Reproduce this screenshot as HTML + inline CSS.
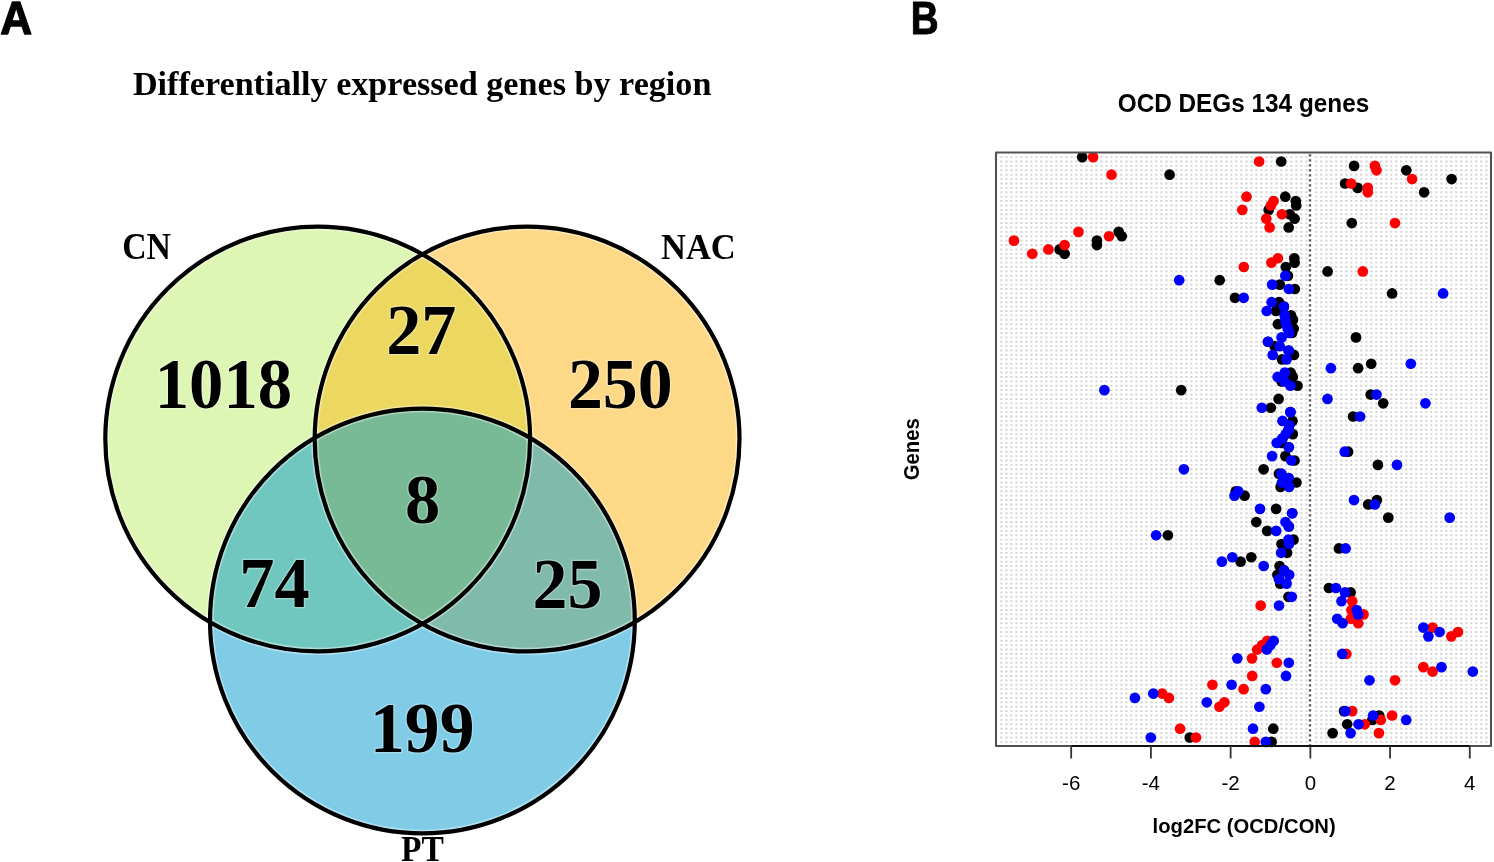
<!DOCTYPE html>
<html><head><meta charset="utf-8"><style>
html,body{margin:0;padding:0;background:#fff;}
body{width:1494px;height:862px;overflow:hidden;}
svg{display:block;will-change:transform;}
</style></head><body>
<svg width="1494" height="862" viewBox="0 0 1494 862">
<defs>
<clipPath id="cCN"><circle cx="317.7" cy="439.0" r="212.4"/></clipPath>
<clipPath id="cNAC"><circle cx="527.1" cy="439.0" r="212.4"/></clipPath>
<filter id="bl" filterUnits="userSpaceOnUse" x="900" y="100" width="600" height="700"><feGaussianBlur stdDeviation="0.45"/></filter>
</defs>
<circle cx="317.7" cy="439.0" r="212.4" fill="#DDF6B4"/>
<circle cx="527.1" cy="439.0" r="212.4" fill="#FDD987"/>
<circle cx="422.4" cy="621.0" r="212.4" fill="#80CCE7"/>
<g clip-path="url(#cCN)"><circle cx="527.1" cy="439.0" r="212.4" fill="#ECD860"/><circle cx="422.4" cy="621.0" r="212.4" fill="#70C7BF"/></g>
<g clip-path="url(#cNAC)"><circle cx="422.4" cy="621.0" r="212.4" fill="#80BAAB"/><g clip-path="url(#cCN)"><circle cx="422.4" cy="621.0" r="212.4" fill="#78B996"/></g></g>
<circle cx="317.7" cy="439.0" r="212.4" fill="none" stroke="#fff" stroke-opacity="0.4" stroke-width="7.4"/>
<circle cx="527.1" cy="439.0" r="212.4" fill="none" stroke="#fff" stroke-opacity="0.4" stroke-width="7.4"/>
<circle cx="422.4" cy="621.0" r="212.4" fill="none" stroke="#fff" stroke-opacity="0.4" stroke-width="7.4"/>
<circle cx="317.7" cy="439.0" r="212.4" fill="none" stroke="#000" stroke-width="4.2"/>
<circle cx="527.1" cy="439.0" r="212.4" fill="none" stroke="#000" stroke-width="4.2"/>
<circle cx="422.4" cy="621.0" r="212.4" fill="none" stroke="#000" stroke-width="4.2"/>
<text transform="matrix(0.9581 0 0 1.0168 0.321 33.992)" font-family="Liberation Sans" font-weight="bold" font-size="46" stroke="#000" stroke-width="1.3" stroke-linejoin="round">A</text>
<text transform="matrix(1.0049 0 0 0.9778 132.898 94.867)" font-family="Liberation Serif" font-weight="bold" font-size="34">Differentially expressed genes by region</text>
<text transform="matrix(0.9658 0 0 1.0596 122.210 259.235)" font-family="Liberation Serif" font-weight="bold" font-size="35">CN</text>
<text transform="matrix(0.9876 0 0 1.0426 660.959 259.239)" font-family="Liberation Serif" font-weight="bold" font-size="35">NAC</text>
<text transform="matrix(0.9577 0 0 1.0174 401.021 860.700)" font-family="Liberation Serif" font-weight="bold" font-size="35">PT</text>
<text transform="matrix(0.9815 0 0 1.0138 154.702 408.240)" font-family="Liberation Serif" font-weight="bold" font-size="70" stroke="#fff" stroke-opacity="0.3" stroke-width="2.6" paint-order="stroke">1018</text>
<text transform="matrix(1.0023 0 0 1.0249 386.293 354.000)" font-family="Liberation Serif" font-weight="bold" font-size="70" stroke="#fff" stroke-opacity="0.3" stroke-width="2.6" paint-order="stroke">27</text>
<text transform="matrix(0.9975 0 0 1.0201 567.908 408.335)" font-family="Liberation Serif" font-weight="bold" font-size="70" stroke="#fff" stroke-opacity="0.3" stroke-width="2.6" paint-order="stroke">250</text>
<text transform="matrix(1.0066 0 0 1.0095 405.035 522.843)" font-family="Liberation Serif" font-weight="bold" font-size="70" stroke="#fff" stroke-opacity="0.3" stroke-width="2.6" paint-order="stroke">8</text>
<text transform="matrix(1.0054 0 0 1.0217 239.278 607.300)" font-family="Liberation Serif" font-weight="bold" font-size="70" stroke="#fff" stroke-opacity="0.3" stroke-width="2.6" paint-order="stroke">74</text>
<text transform="matrix(0.9984 0 0 1.0298 532.605 607.628)" font-family="Liberation Serif" font-weight="bold" font-size="70" stroke="#fff" stroke-opacity="0.3" stroke-width="2.6" paint-order="stroke">25</text>
<text transform="matrix(0.9948 0 0 1.0255 370.028 752.431)" font-family="Liberation Serif" font-weight="bold" font-size="70" stroke="#fff" stroke-opacity="0.3" stroke-width="2.6" paint-order="stroke">199</text>
<text transform="matrix(0.8379 0 0 1.0062 910.705 33.697)" font-family="Liberation Sans" font-weight="bold" font-size="46" stroke="#000" stroke-width="1.0" stroke-linejoin="round">B</text>
<text transform="matrix(0.9735 0 0 1.0022 1117.727 111.938)" font-family="Liberation Sans" font-weight="bold" font-size="25">OCD DEGs 134 genes</text>
<text transform="matrix(0 -0.9664 1.0467 0 918.738 480.225)" font-family="Liberation Sans" font-weight="bold" font-size="21">Genes</text>
<text transform="matrix(1.0118 0 0 1.0453 1152.582 832.857)" font-family="Liberation Sans" font-weight="bold" font-size="20">log2FC (OCD/CON)</text>
<g stroke="#d5d5d5" stroke-width="1.9" stroke-dasharray="2.2 2.8" filter="url(#bl)">
<path d="M1000.3 157.10H1308.9M1315.2 157.10H1490"/>
<path d="M1000.3 161.50H1308.9M1315.2 161.50H1490"/>
<path d="M1000.3 165.89H1308.9M1315.2 165.89H1490"/>
<path d="M1000.3 170.29H1308.9M1315.2 170.29H1490"/>
<path d="M1000.3 174.69H1308.9M1315.2 174.69H1490"/>
<path d="M1000.3 179.08H1308.9M1315.2 179.08H1490"/>
<path d="M1000.3 183.48H1308.9M1315.2 183.48H1490"/>
<path d="M1000.3 187.88H1308.9M1315.2 187.88H1490"/>
<path d="M1000.3 192.28H1308.9M1315.2 192.28H1490"/>
<path d="M1000.3 196.67H1308.9M1315.2 196.67H1490"/>
<path d="M1000.3 201.07H1308.9M1315.2 201.07H1490"/>
<path d="M1000.3 205.47H1308.9M1315.2 205.47H1490"/>
<path d="M1000.3 209.86H1308.9M1315.2 209.86H1490"/>
<path d="M1000.3 214.26H1308.9M1315.2 214.26H1490"/>
<path d="M1000.3 218.66H1308.9M1315.2 218.66H1490"/>
<path d="M1000.3 223.06H1308.9M1315.2 223.06H1490"/>
<path d="M1000.3 227.45H1308.9M1315.2 227.45H1490"/>
<path d="M1000.3 231.85H1308.9M1315.2 231.85H1490"/>
<path d="M1000.3 236.25H1308.9M1315.2 236.25H1490"/>
<path d="M1000.3 240.64H1308.9M1315.2 240.64H1490"/>
<path d="M1000.3 245.04H1308.9M1315.2 245.04H1490"/>
<path d="M1000.3 249.44H1308.9M1315.2 249.44H1490"/>
<path d="M1000.3 253.83H1308.9M1315.2 253.83H1490"/>
<path d="M1000.3 258.23H1308.9M1315.2 258.23H1490"/>
<path d="M1000.3 262.63H1308.9M1315.2 262.63H1490"/>
<path d="M1000.3 267.02H1308.9M1315.2 267.02H1490"/>
<path d="M1000.3 271.42H1308.9M1315.2 271.42H1490"/>
<path d="M1000.3 275.82H1308.9M1315.2 275.82H1490"/>
<path d="M1000.3 280.22H1308.9M1315.2 280.22H1490"/>
<path d="M1000.3 284.61H1308.9M1315.2 284.61H1490"/>
<path d="M1000.3 289.01H1308.9M1315.2 289.01H1490"/>
<path d="M1000.3 293.41H1308.9M1315.2 293.41H1490"/>
<path d="M1000.3 297.80H1308.9M1315.2 297.80H1490"/>
<path d="M1000.3 302.20H1308.9M1315.2 302.20H1490"/>
<path d="M1000.3 306.60H1308.9M1315.2 306.60H1490"/>
<path d="M1000.3 311.00H1308.9M1315.2 311.00H1490"/>
<path d="M1000.3 315.39H1308.9M1315.2 315.39H1490"/>
<path d="M1000.3 319.79H1308.9M1315.2 319.79H1490"/>
<path d="M1000.3 324.19H1308.9M1315.2 324.19H1490"/>
<path d="M1000.3 328.58H1308.9M1315.2 328.58H1490"/>
<path d="M1000.3 332.98H1308.9M1315.2 332.98H1490"/>
<path d="M1000.3 337.38H1308.9M1315.2 337.38H1490"/>
<path d="M1000.3 341.77H1308.9M1315.2 341.77H1490"/>
<path d="M1000.3 346.17H1308.9M1315.2 346.17H1490"/>
<path d="M1000.3 350.57H1308.9M1315.2 350.57H1490"/>
<path d="M1000.3 354.97H1308.9M1315.2 354.97H1490"/>
<path d="M1000.3 359.36H1308.9M1315.2 359.36H1490"/>
<path d="M1000.3 363.76H1308.9M1315.2 363.76H1490"/>
<path d="M1000.3 368.16H1308.9M1315.2 368.16H1490"/>
<path d="M1000.3 372.55H1308.9M1315.2 372.55H1490"/>
<path d="M1000.3 376.95H1308.9M1315.2 376.95H1490"/>
<path d="M1000.3 381.35H1308.9M1315.2 381.35H1490"/>
<path d="M1000.3 385.74H1308.9M1315.2 385.74H1490"/>
<path d="M1000.3 390.14H1308.9M1315.2 390.14H1490"/>
<path d="M1000.3 394.54H1308.9M1315.2 394.54H1490"/>
<path d="M1000.3 398.94H1308.9M1315.2 398.94H1490"/>
<path d="M1000.3 403.33H1308.9M1315.2 403.33H1490"/>
<path d="M1000.3 407.73H1308.9M1315.2 407.73H1490"/>
<path d="M1000.3 412.13H1308.9M1315.2 412.13H1490"/>
<path d="M1000.3 416.52H1308.9M1315.2 416.52H1490"/>
<path d="M1000.3 420.92H1308.9M1315.2 420.92H1490"/>
<path d="M1000.3 425.32H1308.9M1315.2 425.32H1490"/>
<path d="M1000.3 429.71H1308.9M1315.2 429.71H1490"/>
<path d="M1000.3 434.11H1308.9M1315.2 434.11H1490"/>
<path d="M1000.3 438.51H1308.9M1315.2 438.51H1490"/>
<path d="M1000.3 442.90H1308.9M1315.2 442.90H1490"/>
<path d="M1000.3 447.30H1308.9M1315.2 447.30H1490"/>
<path d="M1000.3 451.70H1308.9M1315.2 451.70H1490"/>
<path d="M1000.3 456.10H1308.9M1315.2 456.10H1490"/>
<path d="M1000.3 460.49H1308.9M1315.2 460.49H1490"/>
<path d="M1000.3 464.89H1308.9M1315.2 464.89H1490"/>
<path d="M1000.3 469.29H1308.9M1315.2 469.29H1490"/>
<path d="M1000.3 473.68H1308.9M1315.2 473.68H1490"/>
<path d="M1000.3 478.08H1308.9M1315.2 478.08H1490"/>
<path d="M1000.3 482.48H1308.9M1315.2 482.48H1490"/>
<path d="M1000.3 486.88H1308.9M1315.2 486.88H1490"/>
<path d="M1000.3 491.27H1308.9M1315.2 491.27H1490"/>
<path d="M1000.3 495.67H1308.9M1315.2 495.67H1490"/>
<path d="M1000.3 500.07H1308.9M1315.2 500.07H1490"/>
<path d="M1000.3 504.46H1308.9M1315.2 504.46H1490"/>
<path d="M1000.3 508.86H1308.9M1315.2 508.86H1490"/>
<path d="M1000.3 513.26H1308.9M1315.2 513.26H1490"/>
<path d="M1000.3 517.65H1308.9M1315.2 517.65H1490"/>
<path d="M1000.3 522.05H1308.9M1315.2 522.05H1490"/>
<path d="M1000.3 526.45H1308.9M1315.2 526.45H1490"/>
<path d="M1000.3 530.85H1308.9M1315.2 530.85H1490"/>
<path d="M1000.3 535.24H1308.9M1315.2 535.24H1490"/>
<path d="M1000.3 539.64H1308.9M1315.2 539.64H1490"/>
<path d="M1000.3 544.04H1308.9M1315.2 544.04H1490"/>
<path d="M1000.3 548.43H1308.9M1315.2 548.43H1490"/>
<path d="M1000.3 552.83H1308.9M1315.2 552.83H1490"/>
<path d="M1000.3 557.23H1308.9M1315.2 557.23H1490"/>
<path d="M1000.3 561.62H1308.9M1315.2 561.62H1490"/>
<path d="M1000.3 566.02H1308.9M1315.2 566.02H1490"/>
<path d="M1000.3 570.42H1308.9M1315.2 570.42H1490"/>
<path d="M1000.3 574.82H1308.9M1315.2 574.82H1490"/>
<path d="M1000.3 579.21H1308.9M1315.2 579.21H1490"/>
<path d="M1000.3 583.61H1308.9M1315.2 583.61H1490"/>
<path d="M1000.3 588.01H1308.9M1315.2 588.01H1490"/>
<path d="M1000.3 592.40H1308.9M1315.2 592.40H1490"/>
<path d="M1000.3 596.80H1308.9M1315.2 596.80H1490"/>
<path d="M1000.3 601.20H1308.9M1315.2 601.20H1490"/>
<path d="M1000.3 605.59H1308.9M1315.2 605.59H1490"/>
<path d="M1000.3 609.99H1308.9M1315.2 609.99H1490"/>
<path d="M1000.3 614.39H1308.9M1315.2 614.39H1490"/>
<path d="M1000.3 618.78H1308.9M1315.2 618.78H1490"/>
<path d="M1000.3 623.18H1308.9M1315.2 623.18H1490"/>
<path d="M1000.3 627.58H1308.9M1315.2 627.58H1490"/>
<path d="M1000.3 631.98H1308.9M1315.2 631.98H1490"/>
<path d="M1000.3 636.37H1308.9M1315.2 636.37H1490"/>
<path d="M1000.3 640.77H1308.9M1315.2 640.77H1490"/>
<path d="M1000.3 645.17H1308.9M1315.2 645.17H1490"/>
<path d="M1000.3 649.56H1308.9M1315.2 649.56H1490"/>
<path d="M1000.3 653.96H1308.9M1315.2 653.96H1490"/>
<path d="M1000.3 658.36H1308.9M1315.2 658.36H1490"/>
<path d="M1000.3 662.75H1308.9M1315.2 662.75H1490"/>
<path d="M1000.3 667.15H1308.9M1315.2 667.15H1490"/>
<path d="M1000.3 671.55H1308.9M1315.2 671.55H1490"/>
<path d="M1000.3 675.95H1308.9M1315.2 675.95H1490"/>
<path d="M1000.3 680.34H1308.9M1315.2 680.34H1490"/>
<path d="M1000.3 684.74H1308.9M1315.2 684.74H1490"/>
<path d="M1000.3 689.14H1308.9M1315.2 689.14H1490"/>
<path d="M1000.3 693.53H1308.9M1315.2 693.53H1490"/>
<path d="M1000.3 697.93H1308.9M1315.2 697.93H1490"/>
<path d="M1000.3 702.33H1308.9M1315.2 702.33H1490"/>
<path d="M1000.3 706.73H1308.9M1315.2 706.73H1490"/>
<path d="M1000.3 711.12H1308.9M1315.2 711.12H1490"/>
<path d="M1000.3 715.52H1308.9M1315.2 715.52H1490"/>
<path d="M1000.3 719.92H1308.9M1315.2 719.92H1490"/>
<path d="M1000.3 724.31H1308.9M1315.2 724.31H1490"/>
<path d="M1000.3 728.71H1308.9M1315.2 728.71H1490"/>
<path d="M1000.3 733.11H1308.9M1315.2 733.11H1490"/>
<path d="M1000.3 737.50H1308.9M1315.2 737.50H1490"/>
<path d="M1000.3 741.90H1308.9M1315.2 741.90H1490"/>
</g>
<line x1="1310.0" y1="152.5" x2="1310.0" y2="746" stroke="#5a5a5a" stroke-width="2.4" stroke-dasharray="2.4 2.6" stroke-dashoffset="3.35" filter="url(#bl)"/>
<circle cx="1082.2" cy="157.10" r="5.35" fill="#000000"/>
<circle cx="1281.2" cy="161.50" r="5.35" fill="#000000"/>
<circle cx="1354.1" cy="165.89" r="5.35" fill="#000000"/>
<circle cx="1406.3" cy="170.29" r="5.35" fill="#000000"/>
<circle cx="1169.6" cy="174.69" r="5.35" fill="#000000"/>
<circle cx="1451.6" cy="179.08" r="5.35" fill="#000000"/>
<circle cx="1345.1" cy="183.48" r="5.35" fill="#000000"/>
<circle cx="1357.6" cy="187.88" r="5.35" fill="#000000"/>
<circle cx="1424.1" cy="192.28" r="5.35" fill="#000000"/>
<circle cx="1285.3" cy="196.67" r="5.35" fill="#000000"/>
<circle cx="1295.8" cy="201.07" r="5.35" fill="#000000"/>
<circle cx="1296.2" cy="205.47" r="5.35" fill="#000000"/>
<circle cx="1268.7" cy="209.86" r="5.35" fill="#000000"/>
<circle cx="1289.8" cy="214.26" r="5.35" fill="#000000"/>
<circle cx="1294.6" cy="218.66" r="5.35" fill="#000000"/>
<circle cx="1351.8" cy="223.06" r="5.35" fill="#000000"/>
<circle cx="1288.7" cy="227.45" r="5.35" fill="#000000"/>
<circle cx="1118.7" cy="231.85" r="5.35" fill="#000000"/>
<circle cx="1121.8" cy="236.25" r="5.35" fill="#000000"/>
<circle cx="1096.9" cy="240.64" r="5.35" fill="#000000"/>
<circle cx="1096.9" cy="245.04" r="5.35" fill="#000000"/>
<circle cx="1059.6" cy="249.44" r="5.35" fill="#000000"/>
<circle cx="1064.6" cy="253.83" r="5.35" fill="#000000"/>
<circle cx="1294.3" cy="258.23" r="5.35" fill="#000000"/>
<circle cx="1294.6" cy="262.63" r="5.35" fill="#000000"/>
<circle cx="1285.8" cy="267.02" r="5.35" fill="#000000"/>
<circle cx="1327.6" cy="271.42" r="5.35" fill="#000000"/>
<circle cx="1287.9" cy="275.82" r="5.35" fill="#000000"/>
<circle cx="1219.7" cy="280.22" r="5.35" fill="#000000"/>
<circle cx="1279.8" cy="284.61" r="5.35" fill="#000000"/>
<circle cx="1294.8" cy="289.01" r="5.35" fill="#000000"/>
<circle cx="1392.1" cy="293.41" r="5.35" fill="#000000"/>
<circle cx="1235.0" cy="297.80" r="5.35" fill="#000000"/>
<circle cx="1279.0" cy="302.20" r="5.35" fill="#000000"/>
<circle cx="1283.9" cy="306.60" r="5.35" fill="#000000"/>
<circle cx="1276.0" cy="311.00" r="5.35" fill="#000000"/>
<circle cx="1291.0" cy="315.39" r="5.35" fill="#000000"/>
<circle cx="1293.0" cy="319.79" r="5.35" fill="#000000"/>
<circle cx="1277.9" cy="324.19" r="5.35" fill="#000000"/>
<circle cx="1293.7" cy="328.58" r="5.35" fill="#000000"/>
<circle cx="1292.0" cy="332.98" r="5.35" fill="#000000"/>
<circle cx="1356.0" cy="337.38" r="5.35" fill="#000000"/>
<circle cx="1268.0" cy="341.77" r="5.35" fill="#000000"/>
<circle cx="1274.5" cy="346.17" r="5.35" fill="#000000"/>
<circle cx="1288.6" cy="350.57" r="5.35" fill="#000000"/>
<circle cx="1293.9" cy="354.97" r="5.35" fill="#000000"/>
<circle cx="1282.0" cy="359.36" r="5.35" fill="#000000"/>
<circle cx="1371.2" cy="363.76" r="5.35" fill="#000000"/>
<circle cx="1358.1" cy="368.16" r="5.35" fill="#000000"/>
<circle cx="1290.6" cy="372.55" r="5.35" fill="#000000"/>
<circle cx="1292.8" cy="376.95" r="5.35" fill="#000000"/>
<circle cx="1281.5" cy="381.35" r="5.35" fill="#000000"/>
<circle cx="1297.5" cy="385.74" r="5.35" fill="#000000"/>
<circle cx="1181.2" cy="390.14" r="5.35" fill="#000000"/>
<circle cx="1370.7" cy="394.54" r="5.35" fill="#000000"/>
<circle cx="1278.6" cy="398.94" r="5.35" fill="#000000"/>
<circle cx="1383.2" cy="403.33" r="5.35" fill="#000000"/>
<circle cx="1270.8" cy="407.73" r="5.35" fill="#000000"/>
<circle cx="1290.4" cy="412.13" r="5.35" fill="#000000"/>
<circle cx="1353.1" cy="416.52" r="5.35" fill="#000000"/>
<circle cx="1292.5" cy="420.92" r="5.35" fill="#000000"/>
<circle cx="1289.3" cy="425.32" r="5.35" fill="#000000"/>
<circle cx="1288.6" cy="429.71" r="5.35" fill="#000000"/>
<circle cx="1292.8" cy="434.11" r="5.35" fill="#000000"/>
<circle cx="1282.4" cy="438.51" r="5.35" fill="#000000"/>
<circle cx="1281.7" cy="442.90" r="5.35" fill="#000000"/>
<circle cx="1288.8" cy="447.30" r="5.35" fill="#000000"/>
<circle cx="1348.1" cy="451.70" r="5.35" fill="#000000"/>
<circle cx="1285.4" cy="456.10" r="5.35" fill="#000000"/>
<circle cx="1294.5" cy="460.49" r="5.35" fill="#000000"/>
<circle cx="1377.9" cy="464.89" r="5.35" fill="#000000"/>
<circle cx="1263.6" cy="469.29" r="5.35" fill="#000000"/>
<circle cx="1278.9" cy="473.68" r="5.35" fill="#000000"/>
<circle cx="1288.5" cy="478.08" r="5.35" fill="#000000"/>
<circle cx="1296.4" cy="482.48" r="5.35" fill="#000000"/>
<circle cx="1280.6" cy="486.88" r="5.35" fill="#000000"/>
<circle cx="1235.8" cy="491.27" r="5.35" fill="#000000"/>
<circle cx="1244.6" cy="495.67" r="5.35" fill="#000000"/>
<circle cx="1376.9" cy="500.07" r="5.35" fill="#000000"/>
<circle cx="1368.2" cy="504.46" r="5.35" fill="#000000"/>
<circle cx="1276.1" cy="508.86" r="5.35" fill="#000000"/>
<circle cx="1292.2" cy="513.26" r="5.35" fill="#000000"/>
<circle cx="1388.3" cy="517.65" r="5.35" fill="#000000"/>
<circle cx="1256.3" cy="522.05" r="5.35" fill="#000000"/>
<circle cx="1288.8" cy="526.45" r="5.35" fill="#000000"/>
<circle cx="1267.2" cy="530.85" r="5.35" fill="#000000"/>
<circle cx="1167.9" cy="535.24" r="5.35" fill="#000000"/>
<circle cx="1293.5" cy="539.64" r="5.35" fill="#000000"/>
<circle cx="1281.5" cy="544.04" r="5.35" fill="#000000"/>
<circle cx="1338.9" cy="548.43" r="5.35" fill="#000000"/>
<circle cx="1287.1" cy="552.83" r="5.35" fill="#000000"/>
<circle cx="1251.3" cy="557.23" r="5.35" fill="#000000"/>
<circle cx="1240.6" cy="561.62" r="5.35" fill="#000000"/>
<circle cx="1279.6" cy="566.02" r="5.35" fill="#000000"/>
<circle cx="1284.1" cy="570.42" r="5.35" fill="#000000"/>
<circle cx="1277.4" cy="574.82" r="5.35" fill="#000000"/>
<circle cx="1279.1" cy="579.21" r="5.35" fill="#000000"/>
<circle cx="1280.2" cy="583.61" r="5.35" fill="#000000"/>
<circle cx="1328.9" cy="588.01" r="5.35" fill="#000000"/>
<circle cx="1350.6" cy="592.40" r="5.35" fill="#000000"/>
<circle cx="1288.5" cy="596.80" r="5.35" fill="#000000"/>
<circle cx="1344.0" cy="711.12" r="5.35" fill="#000000"/>
<circle cx="1379.2" cy="715.52" r="5.35" fill="#000000"/>
<circle cx="1372.3" cy="719.92" r="5.35" fill="#000000"/>
<circle cx="1347.2" cy="724.31" r="5.35" fill="#000000"/>
<circle cx="1273.3" cy="728.71" r="5.35" fill="#000000"/>
<circle cx="1332.6" cy="733.11" r="5.35" fill="#000000"/>
<circle cx="1189.8" cy="737.50" r="5.35" fill="#000000"/>
<circle cx="1271.6" cy="741.90" r="5.35" fill="#000000"/>
<circle cx="1093.1" cy="157.10" r="5.35" fill="#FF0000"/>
<circle cx="1259.1" cy="161.50" r="5.35" fill="#FF0000"/>
<circle cx="1374.9" cy="165.89" r="5.35" fill="#FF0000"/>
<circle cx="1376.5" cy="170.29" r="5.35" fill="#FF0000"/>
<circle cx="1111.5" cy="174.69" r="5.35" fill="#FF0000"/>
<circle cx="1412.1" cy="179.08" r="5.35" fill="#FF0000"/>
<circle cx="1351.1" cy="183.48" r="5.35" fill="#FF0000"/>
<circle cx="1367.8" cy="187.88" r="5.35" fill="#FF0000"/>
<circle cx="1367.8" cy="192.28" r="5.35" fill="#FF0000"/>
<circle cx="1246.5" cy="196.67" r="5.35" fill="#FF0000"/>
<circle cx="1273.6" cy="201.07" r="5.35" fill="#FF0000"/>
<circle cx="1270.9" cy="205.47" r="5.35" fill="#FF0000"/>
<circle cx="1242.3" cy="209.86" r="5.35" fill="#FF0000"/>
<circle cx="1281.9" cy="214.26" r="5.35" fill="#FF0000"/>
<circle cx="1266.3" cy="218.66" r="5.35" fill="#FF0000"/>
<circle cx="1395.0" cy="223.06" r="5.35" fill="#FF0000"/>
<circle cx="1269.6" cy="227.45" r="5.35" fill="#FF0000"/>
<circle cx="1078.5" cy="231.85" r="5.35" fill="#FF0000"/>
<circle cx="1109.0" cy="236.25" r="5.35" fill="#FF0000"/>
<circle cx="1013.9" cy="240.64" r="5.35" fill="#FF0000"/>
<circle cx="1064.6" cy="245.04" r="5.35" fill="#FF0000"/>
<circle cx="1048.4" cy="249.44" r="5.35" fill="#FF0000"/>
<circle cx="1032.3" cy="253.83" r="5.35" fill="#FF0000"/>
<circle cx="1277.9" cy="258.23" r="5.35" fill="#FF0000"/>
<circle cx="1271.4" cy="262.63" r="5.35" fill="#FF0000"/>
<circle cx="1243.8" cy="267.02" r="5.35" fill="#FF0000"/>
<circle cx="1362.8" cy="271.42" r="5.35" fill="#FF0000"/>
<circle cx="1352.2" cy="601.20" r="5.35" fill="#FF0000"/>
<circle cx="1260.7" cy="605.59" r="5.35" fill="#FF0000"/>
<circle cx="1351.4" cy="609.99" r="5.35" fill="#FF0000"/>
<circle cx="1363.5" cy="614.39" r="5.35" fill="#FF0000"/>
<circle cx="1350.8" cy="618.78" r="5.35" fill="#FF0000"/>
<circle cx="1358.3" cy="623.18" r="5.35" fill="#FF0000"/>
<circle cx="1432.6" cy="627.58" r="5.35" fill="#FF0000"/>
<circle cx="1458.0" cy="631.98" r="5.35" fill="#FF0000"/>
<circle cx="1451.3" cy="636.37" r="5.35" fill="#FF0000"/>
<circle cx="1267.2" cy="640.77" r="5.35" fill="#FF0000"/>
<circle cx="1262.0" cy="645.17" r="5.35" fill="#FF0000"/>
<circle cx="1257.2" cy="649.56" r="5.35" fill="#FF0000"/>
<circle cx="1346.4" cy="653.96" r="5.35" fill="#FF0000"/>
<circle cx="1252.0" cy="658.36" r="5.35" fill="#FF0000"/>
<circle cx="1276.8" cy="662.75" r="5.35" fill="#FF0000"/>
<circle cx="1423.4" cy="667.15" r="5.35" fill="#FF0000"/>
<circle cx="1432.6" cy="671.55" r="5.35" fill="#FF0000"/>
<circle cx="1252.2" cy="675.95" r="5.35" fill="#FF0000"/>
<circle cx="1395.0" cy="680.34" r="5.35" fill="#FF0000"/>
<circle cx="1212.4" cy="684.74" r="5.35" fill="#FF0000"/>
<circle cx="1243.6" cy="689.14" r="5.35" fill="#FF0000"/>
<circle cx="1162.2" cy="693.53" r="5.35" fill="#FF0000"/>
<circle cx="1168.9" cy="697.93" r="5.35" fill="#FF0000"/>
<circle cx="1224.4" cy="702.33" r="5.35" fill="#FF0000"/>
<circle cx="1219.4" cy="706.73" r="5.35" fill="#FF0000"/>
<circle cx="1352.2" cy="711.12" r="5.35" fill="#FF0000"/>
<circle cx="1392.1" cy="715.52" r="5.35" fill="#FF0000"/>
<circle cx="1380.8" cy="719.92" r="5.35" fill="#FF0000"/>
<circle cx="1364.8" cy="724.31" r="5.35" fill="#FF0000"/>
<circle cx="1180.1" cy="728.71" r="5.35" fill="#FF0000"/>
<circle cx="1378.9" cy="733.11" r="5.35" fill="#FF0000"/>
<circle cx="1196.0" cy="737.50" r="5.35" fill="#FF0000"/>
<circle cx="1254.7" cy="741.90" r="5.35" fill="#FF0000"/>
<circle cx="1285.3" cy="275.82" r="5.35" fill="#0000FF"/>
<circle cx="1179.2" cy="280.22" r="5.35" fill="#0000FF"/>
<circle cx="1272.2" cy="284.61" r="5.35" fill="#0000FF"/>
<circle cx="1288.8" cy="289.01" r="5.35" fill="#0000FF"/>
<circle cx="1443.1" cy="293.41" r="5.35" fill="#0000FF"/>
<circle cx="1243.7" cy="297.80" r="5.35" fill="#0000FF"/>
<circle cx="1271.6" cy="302.20" r="5.35" fill="#0000FF"/>
<circle cx="1283.9" cy="306.60" r="5.35" fill="#0000FF"/>
<circle cx="1266.7" cy="311.00" r="5.35" fill="#0000FF"/>
<circle cx="1284.7" cy="315.39" r="5.35" fill="#0000FF"/>
<circle cx="1285.4" cy="319.79" r="5.35" fill="#0000FF"/>
<circle cx="1286.2" cy="324.19" r="5.35" fill="#0000FF"/>
<circle cx="1287.7" cy="328.58" r="5.35" fill="#0000FF"/>
<circle cx="1289.2" cy="332.98" r="5.35" fill="#0000FF"/>
<circle cx="1281.6" cy="337.38" r="5.35" fill="#0000FF"/>
<circle cx="1268.0" cy="341.77" r="5.35" fill="#0000FF"/>
<circle cx="1279.7" cy="346.17" r="5.35" fill="#0000FF"/>
<circle cx="1288.6" cy="350.57" r="5.35" fill="#0000FF"/>
<circle cx="1272.7" cy="354.97" r="5.35" fill="#0000FF"/>
<circle cx="1286.6" cy="359.36" r="5.35" fill="#0000FF"/>
<circle cx="1410.8" cy="363.76" r="5.35" fill="#0000FF"/>
<circle cx="1330.9" cy="368.16" r="5.35" fill="#0000FF"/>
<circle cx="1284.8" cy="372.55" r="5.35" fill="#0000FF"/>
<circle cx="1277.6" cy="376.95" r="5.35" fill="#0000FF"/>
<circle cx="1284.4" cy="381.35" r="5.35" fill="#0000FF"/>
<circle cx="1290.4" cy="385.74" r="5.35" fill="#0000FF"/>
<circle cx="1104.4" cy="390.14" r="5.35" fill="#0000FF"/>
<circle cx="1376.5" cy="394.54" r="5.35" fill="#0000FF"/>
<circle cx="1327.5" cy="398.94" r="5.35" fill="#0000FF"/>
<circle cx="1425.4" cy="403.33" r="5.35" fill="#0000FF"/>
<circle cx="1261.8" cy="407.73" r="5.35" fill="#0000FF"/>
<circle cx="1290.4" cy="412.13" r="5.35" fill="#0000FF"/>
<circle cx="1360.1" cy="416.52" r="5.35" fill="#0000FF"/>
<circle cx="1282.5" cy="420.92" r="5.35" fill="#0000FF"/>
<circle cx="1289.3" cy="425.32" r="5.35" fill="#0000FF"/>
<circle cx="1288.6" cy="429.71" r="5.35" fill="#0000FF"/>
<circle cx="1285.8" cy="434.11" r="5.35" fill="#0000FF"/>
<circle cx="1282.4" cy="438.51" r="5.35" fill="#0000FF"/>
<circle cx="1276.7" cy="442.90" r="5.35" fill="#0000FF"/>
<circle cx="1288.8" cy="447.30" r="5.35" fill="#0000FF"/>
<circle cx="1344.7" cy="451.70" r="5.35" fill="#0000FF"/>
<circle cx="1272.1" cy="456.10" r="5.35" fill="#0000FF"/>
<circle cx="1291.3" cy="460.49" r="5.35" fill="#0000FF"/>
<circle cx="1397.0" cy="464.89" r="5.35" fill="#0000FF"/>
<circle cx="1183.9" cy="469.29" r="5.35" fill="#0000FF"/>
<circle cx="1281.5" cy="473.68" r="5.35" fill="#0000FF"/>
<circle cx="1288.5" cy="478.08" r="5.35" fill="#0000FF"/>
<circle cx="1282.0" cy="482.48" r="5.35" fill="#0000FF"/>
<circle cx="1289.1" cy="486.88" r="5.35" fill="#0000FF"/>
<circle cx="1238.2" cy="491.27" r="5.35" fill="#0000FF"/>
<circle cx="1234.5" cy="495.67" r="5.35" fill="#0000FF"/>
<circle cx="1354.0" cy="500.07" r="5.35" fill="#0000FF"/>
<circle cx="1374.9" cy="504.46" r="5.35" fill="#0000FF"/>
<circle cx="1260.0" cy="508.86" r="5.35" fill="#0000FF"/>
<circle cx="1292.2" cy="513.26" r="5.35" fill="#0000FF"/>
<circle cx="1449.7" cy="517.65" r="5.35" fill="#0000FF"/>
<circle cx="1285.5" cy="522.05" r="5.35" fill="#0000FF"/>
<circle cx="1288.8" cy="526.45" r="5.35" fill="#0000FF"/>
<circle cx="1276.2" cy="530.85" r="5.35" fill="#0000FF"/>
<circle cx="1156.1" cy="535.24" r="5.35" fill="#0000FF"/>
<circle cx="1288.5" cy="539.64" r="5.35" fill="#0000FF"/>
<circle cx="1289.0" cy="544.04" r="5.35" fill="#0000FF"/>
<circle cx="1345.6" cy="548.43" r="5.35" fill="#0000FF"/>
<circle cx="1281.1" cy="552.83" r="5.35" fill="#0000FF"/>
<circle cx="1232.3" cy="557.23" r="5.35" fill="#0000FF"/>
<circle cx="1221.9" cy="561.62" r="5.35" fill="#0000FF"/>
<circle cx="1263.7" cy="566.02" r="5.35" fill="#0000FF"/>
<circle cx="1284.1" cy="570.42" r="5.35" fill="#0000FF"/>
<circle cx="1289.2" cy="574.82" r="5.35" fill="#0000FF"/>
<circle cx="1279.1" cy="579.21" r="5.35" fill="#0000FF"/>
<circle cx="1286.6" cy="583.61" r="5.35" fill="#0000FF"/>
<circle cx="1335.9" cy="588.01" r="5.35" fill="#0000FF"/>
<circle cx="1345.0" cy="592.40" r="5.35" fill="#0000FF"/>
<circle cx="1291.8" cy="596.80" r="5.35" fill="#0000FF"/>
<circle cx="1341.5" cy="601.20" r="5.35" fill="#0000FF"/>
<circle cx="1279.0" cy="605.59" r="5.35" fill="#0000FF"/>
<circle cx="1356.8" cy="609.99" r="5.35" fill="#0000FF"/>
<circle cx="1358.1" cy="614.39" r="5.35" fill="#0000FF"/>
<circle cx="1337.2" cy="618.78" r="5.35" fill="#0000FF"/>
<circle cx="1342.6" cy="623.18" r="5.35" fill="#0000FF"/>
<circle cx="1423.4" cy="627.58" r="5.35" fill="#0000FF"/>
<circle cx="1439.6" cy="631.98" r="5.35" fill="#0000FF"/>
<circle cx="1428.4" cy="636.37" r="5.35" fill="#0000FF"/>
<circle cx="1273.7" cy="640.77" r="5.35" fill="#0000FF"/>
<circle cx="1270.4" cy="645.17" r="5.35" fill="#0000FF"/>
<circle cx="1266.8" cy="649.56" r="5.35" fill="#0000FF"/>
<circle cx="1342.2" cy="653.96" r="5.35" fill="#0000FF"/>
<circle cx="1237.3" cy="658.36" r="5.35" fill="#0000FF"/>
<circle cx="1288.8" cy="662.75" r="5.35" fill="#0000FF"/>
<circle cx="1441.5" cy="667.15" r="5.35" fill="#0000FF"/>
<circle cx="1472.8" cy="671.55" r="5.35" fill="#0000FF"/>
<circle cx="1286.0" cy="675.95" r="5.35" fill="#0000FF"/>
<circle cx="1369.5" cy="680.34" r="5.35" fill="#0000FF"/>
<circle cx="1231.6" cy="684.74" r="5.35" fill="#0000FF"/>
<circle cx="1265.8" cy="689.14" r="5.35" fill="#0000FF"/>
<circle cx="1153.3" cy="693.53" r="5.35" fill="#0000FF"/>
<circle cx="1134.9" cy="697.93" r="5.35" fill="#0000FF"/>
<circle cx="1206.8" cy="702.33" r="5.35" fill="#0000FF"/>
<circle cx="1259.4" cy="706.73" r="5.35" fill="#0000FF"/>
<circle cx="1345.3" cy="711.12" r="5.35" fill="#0000FF"/>
<circle cx="1373.1" cy="715.52" r="5.35" fill="#0000FF"/>
<circle cx="1406.2" cy="719.92" r="5.35" fill="#0000FF"/>
<circle cx="1358.5" cy="724.31" r="5.35" fill="#0000FF"/>
<circle cx="1253.0" cy="728.71" r="5.35" fill="#0000FF"/>
<circle cx="1350.6" cy="733.11" r="5.35" fill="#0000FF"/>
<circle cx="1150.8" cy="737.50" r="5.35" fill="#0000FF"/>
<circle cx="1265.8" cy="741.90" r="5.35" fill="#0000FF"/>
<rect x="996" y="152.5" width="495" height="593.5" fill="none" stroke="#525252" stroke-width="2.1" stroke-linejoin="round"/>
<line x1="1071.1899999999998" y1="746" x2="1469.79" y2="746" stroke="#111" stroke-width="2"/>
<line x1="1071.19" y1="746" x2="1071.19" y2="758.5" stroke="#333" stroke-width="1.8"/>
<text x="1071.19" y="790.3" text-anchor="middle" font-family="Liberation Sans" font-size="20.5">-6</text>
<line x1="1150.91" y1="746" x2="1150.91" y2="758.5" stroke="#333" stroke-width="1.8"/>
<text x="1150.91" y="790.3" text-anchor="middle" font-family="Liberation Sans" font-size="20.5">-4</text>
<line x1="1230.63" y1="746" x2="1230.63" y2="758.5" stroke="#333" stroke-width="1.8"/>
<text x="1230.63" y="790.3" text-anchor="middle" font-family="Liberation Sans" font-size="20.5">-2</text>
<line x1="1310.35" y1="746" x2="1310.35" y2="758.5" stroke="#333" stroke-width="1.8"/>
<text x="1310.35" y="790.3" text-anchor="middle" font-family="Liberation Sans" font-size="20.5">0</text>
<line x1="1390.07" y1="746" x2="1390.07" y2="758.5" stroke="#333" stroke-width="1.8"/>
<text x="1390.07" y="790.3" text-anchor="middle" font-family="Liberation Sans" font-size="20.5">2</text>
<line x1="1469.79" y1="746" x2="1469.79" y2="758.5" stroke="#333" stroke-width="1.8"/>
<text x="1469.79" y="790.3" text-anchor="middle" font-family="Liberation Sans" font-size="20.5">4</text>
</svg>
</body></html>
